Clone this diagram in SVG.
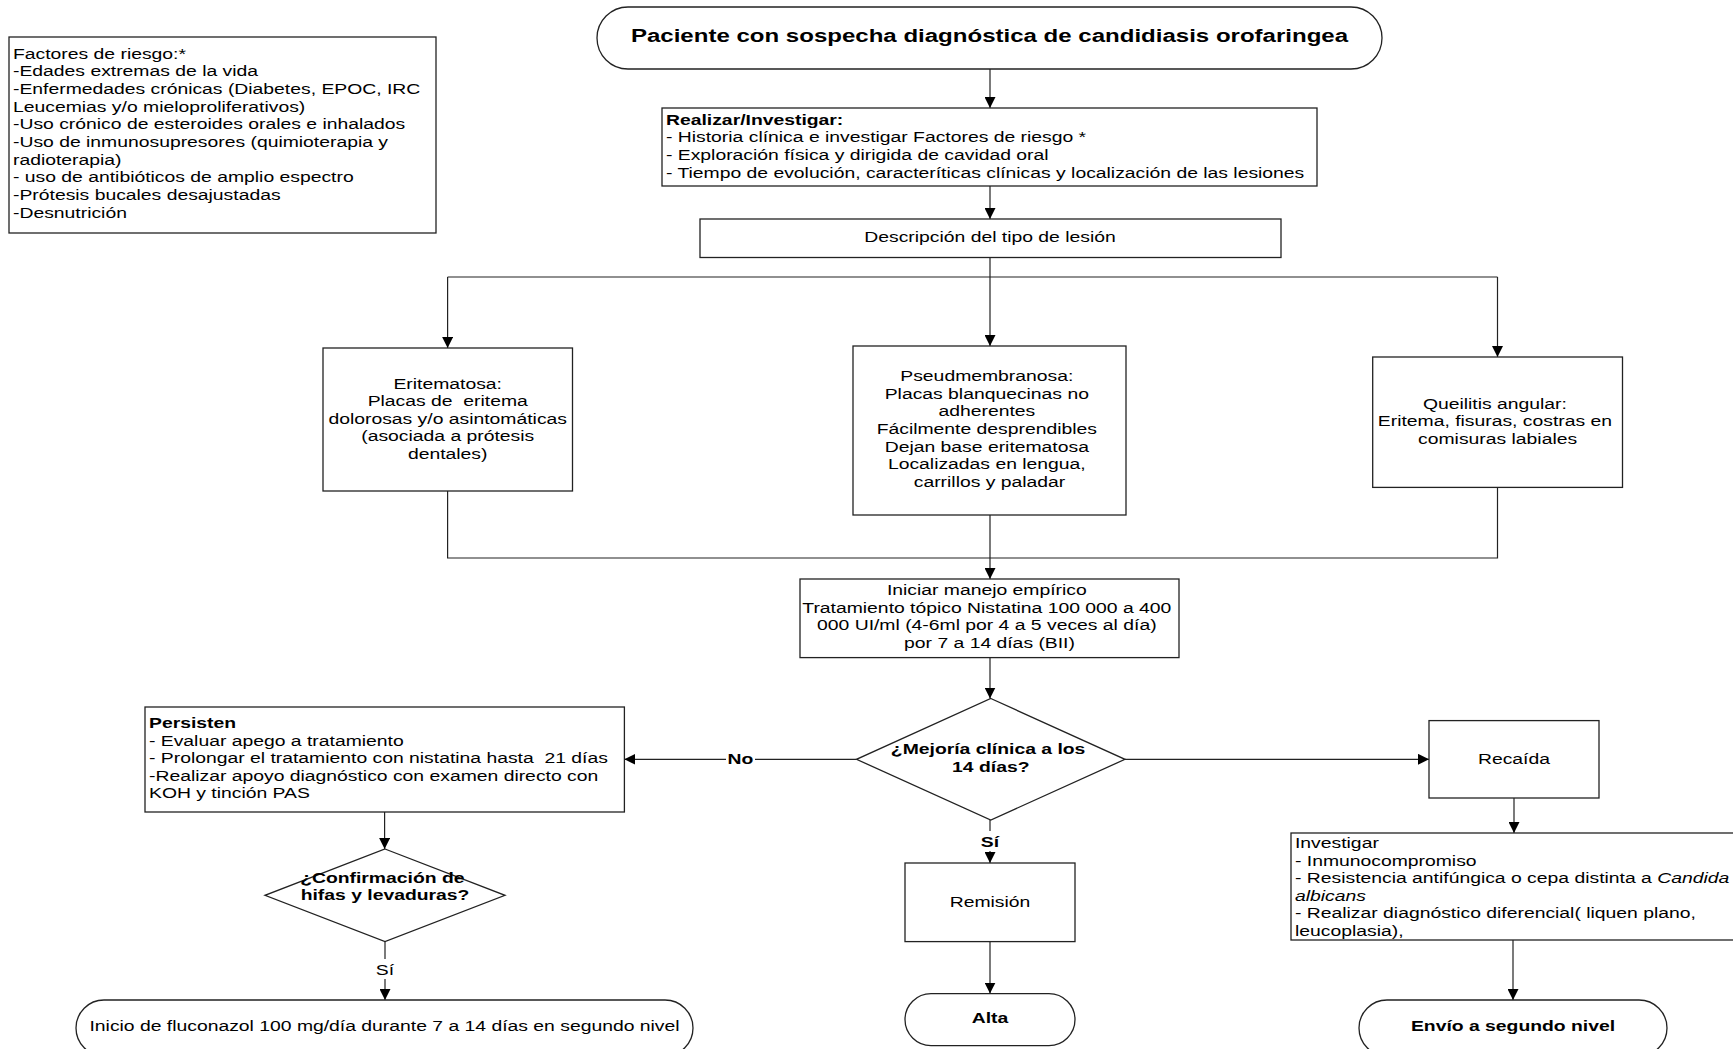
<svg xmlns="http://www.w3.org/2000/svg" width="1733" height="1049" viewBox="0 0 1733 1049">
<style>
text{font-family:"Liberation Sans",Arial,sans-serif;font-size:15px;fill:#000}
.b{font-weight:bold}
.box{fill:#fff;stroke:#222;stroke-width:1.3}
.ln{fill:none;stroke:#222;stroke-width:1.2}
.lbl{fill:#fff;stroke:none}
</style>
<defs>
<marker id="ar" viewBox="0 0 10 10" refX="10" refY="5" markerWidth="11" markerHeight="11" markerUnits="userSpaceOnUse" orient="auto">
<path d="M0,0 L10,5 L0,10 z" fill="#000"/>
</marker>
</defs>
<rect width="1733" height="1049" fill="#fff"/>

<g id="connectors">
<path class="ln" d="M990,69 V108" marker-end="url(#ar)"/>
<path class="ln" d="M990,186 V219" marker-end="url(#ar)"/>
<path class="ln" d="M990,257 V346" marker-end="url(#ar)"/>
<path class="ln" d="M447.6,277 H1497.5"/>
<path class="ln" d="M447.6,277 V348" marker-end="url(#ar)"/>
<path class="ln" d="M1497.5,277 V357" marker-end="url(#ar)"/>
<path class="ln" d="M447.6,491 V558 H1497.5 V487"/>
<path class="ln" d="M990,515 V579" marker-end="url(#ar)"/>
<path class="ln" d="M990,657.6 V698.5" marker-end="url(#ar)"/>
<path class="ln" d="M856.5,759.3 H624.4" marker-end="url(#ar)"/>
<path class="ln" d="M1125,759.3 H1429" marker-end="url(#ar)"/>
<path class="ln" d="M990,820 V863" marker-end="url(#ar)"/>
<path class="ln" d="M990,941.6 V993.6" marker-end="url(#ar)"/>
<path class="ln" d="M1514,798 V833" marker-end="url(#ar)"/>
<path class="ln" d="M1513,940 V1000" marker-end="url(#ar)"/>
<path class="ln" d="M384.6,812 V849" marker-end="url(#ar)"/>
<path class="ln" d="M385,941.6 V1000" marker-end="url(#ar)"/>
<rect class="lbl" x="726" y="749" width="29" height="19"/>
<text class="b" text-anchor="middle" transform="translate(740.5,763.5) scale(1.29,1)">No</text>
<rect class="lbl" x="978" y="831" width="24" height="20"/>
<text class="b" text-anchor="middle" transform="translate(990,846.5) scale(1.29,1)">Sí</text>
<rect class="lbl" x="374" y="959" width="22" height="20"/>
<text text-anchor="middle" transform="translate(385,974.5) scale(1.29,1)">Sí</text>
</g>

<g id="factores">
<rect class="box" x="9" y="37" width="427" height="196"/>
<text transform="translate(13,58.5) scale(1.29,1)">
<tspan x="0" dy="0">Factores de riesgo:*</tspan>
<tspan x="0" dy="17.7">-Edades extremas de la vida</tspan>
<tspan x="0" dy="17.7">-Enfermedades crónicas (Diabetes, EPOC, IRC</tspan>
<tspan x="0" dy="17.7">Leucemias y/o mieloproliferativos)</tspan>
<tspan x="0" dy="17.7">-Uso crónico de esteroides orales e inhalados</tspan>
<tspan x="0" dy="17.7">-Uso de inmunosupresores (quimioterapia y</tspan>
<tspan x="0" dy="17.7">radioterapia)</tspan>
<tspan x="0" dy="17.7">- uso de antibióticos de amplio espectro</tspan>
<tspan x="0" dy="17.7">-Prótesis bucales desajustadas</tspan>
<tspan x="0" dy="17.7">-Desnutrición</tspan>
</text>
</g>

<g id="inicio">
<rect class="box" x="597" y="7" width="785" height="62" rx="31"/>
<text class="b" text-anchor="middle" font-size="18.5" transform="translate(989.5,42) scale(1.3,1)" style="font-size:18.5px">Paciente con sospecha diagnóstica de candidiasis orofaringea</text>
</g>

<g id="realizar">
<rect class="box" x="662" y="108" width="655" height="78"/>
<text transform="translate(666,124.5) scale(1.29,1)">
<tspan x="0" dy="0" class="b">Realizar/Investigar:</tspan>
<tspan x="0" dy="18">- Historia clínica e investigar Factores de riesgo *</tspan>
<tspan x="0" dy="18">- Exploración física y dirigida de cavidad oral</tspan>
<tspan x="0" dy="18">- Tiempo de evolución, caracteríticas clínicas y localización de las lesiones</tspan>
</text>
</g>

<g id="descripcion">
<rect class="box" x="700" y="219" width="581" height="38.5"/>
<text text-anchor="middle" transform="translate(990,242) scale(1.29,1)">Descripción del tipo de lesión</text>
</g>

<g id="eritematosa">
<rect class="box" x="323" y="348" width="249.5" height="143"/>
<text text-anchor="middle" transform="translate(447.7,388.5) scale(1.29,1)" xml:space="preserve"><tspan x="0" dy="0">Eritematosa:</tspan><tspan x="0" dy="17.6">Placas de  eritema</tspan><tspan x="0" dy="17.6">dolorosas y/o asintomáticas</tspan><tspan x="0" dy="17.6">(asociada a prótesis</tspan><tspan x="0" dy="17.6">dentales)</tspan></text>
</g>

<g id="pseudomembranosa">
<rect class="box" x="853" y="346" width="273" height="169"/>
<text text-anchor="middle" transform="translate(989.5,381) scale(1.29,1)">
<tspan x="0" dy="0">Pseudmembranosa:</tspan>
<tspan x="0" dy="17.7">Placas blanquecinas no</tspan>
<tspan x="0" dy="17.7">adherentes</tspan>
<tspan x="0" dy="17.7">Fácilmente desprendibles</tspan>
<tspan x="0" dy="17.7">Dejan base eritematosa</tspan>
<tspan x="0" dy="17.7">Localizadas en lengua,</tspan>
<tspan x="0" dy="17.7">carrillos y paladar</tspan>
</text>
</g>

<g id="queilitis">
<rect class="box" x="1372.7" y="357" width="249.8" height="130.4"/>
<text text-anchor="middle" transform="translate(1497.6,408.5) scale(1.29,1)">
<tspan x="0" dy="0">Queilitis angular:</tspan>
<tspan x="0" dy="17.7">Eritema, fisuras, costras en</tspan>
<tspan x="0" dy="17.7">comisuras labiales</tspan>
</text>
</g>

<g id="iniciar">
<rect class="box" x="800" y="579" width="379" height="78.6"/>
<text text-anchor="middle" transform="translate(989.5,595) scale(1.29,1)">
<tspan x="0" dy="0">Iniciar manejo empírico</tspan>
<tspan x="0" dy="17.7">Tratamiento tópico Nistatina 100 000 a 400</tspan>
<tspan x="0" dy="17.7">000 UI/ml (4-6ml por 4 a 5 veces al día)</tspan>
<tspan x="0" dy="17.7">por 7 a 14 días (BII)</tspan>
</text>
</g>

<g id="mejoria">
<polygon class="box" points="990.8,698.5 1125,759.3 990.8,820 856.5,759.3"/>
<text class="b" text-anchor="middle" transform="translate(990.8,754) scale(1.29,1)">
<tspan x="0" dy="0">¿Mejoría clínica a los</tspan>
<tspan x="0" dy="17.7">14 días?</tspan>
</text>
</g>

<g id="persisten">
<rect class="box" x="145" y="707" width="479.4" height="105"/>
<text transform="translate(149,728) scale(1.29,1)" xml:space="preserve"><tspan x="0" dy="0" class="b">Persisten</tspan><tspan x="0" dy="17.6">- Evaluar apego a tratamiento</tspan><tspan x="0" dy="17.6">- Prolongar el tratamiento con nistatina hasta  21 días</tspan><tspan x="0" dy="17.6">-Realizar apoyo diagnóstico con examen directo con</tspan><tspan x="0" dy="17.6">KOH y tinción PAS</tspan></text>
</g>

<g id="confirmacion">
<polygon class="box" points="385,849 505,895.3 385,941.6 265,895.3"/>
<text class="b" text-anchor="middle" transform="translate(385,882.5) scale(1.29,1)">
<tspan x="0" dy="0">¿Confirmación de</tspan>
<tspan x="0" dy="17.6">hifas y levaduras?</tspan>
</text>
</g>

<g id="fluconazol">
<rect class="box" x="76" y="1000" width="617" height="56" rx="28"/>
<text text-anchor="middle" transform="translate(384.5,1030.5) scale(1.29,1)">Inicio de fluconazol 100 mg/día durante 7 a 14 días en segundo nivel</text>
</g>

<g id="remision">
<rect class="box" x="905" y="863" width="170" height="78.6"/>
<text text-anchor="middle" transform="translate(990,907) scale(1.29,1)">Remisión</text>
</g>

<g id="alta">
<rect class="box" x="905" y="993.6" width="170" height="52" rx="26"/>
<text class="b" text-anchor="middle" transform="translate(990,1023) scale(1.29,1)">Alta</text>
</g>

<g id="recaida">
<rect class="box" x="1429" y="720.6" width="170" height="77.4"/>
<text text-anchor="middle" transform="translate(1514,763.5) scale(1.29,1)">Recaída</text>
</g>

<g id="investigar">
<rect class="box" x="1291" y="833" width="460" height="107"/>
<text transform="translate(1295,848) scale(1.29,1)">
<tspan x="0" dy="0">Investigar</tspan>
<tspan x="0" dy="17.6">- Inmunocompromiso</tspan>
<tspan x="0" dy="17.6">- Resistencia antifúngica o cepa distinta a <tspan font-style="italic">Candida</tspan></tspan>
<tspan x="0" dy="17.6" font-style="italic">albicans</tspan>
<tspan x="0" dy="17.6">- Realizar diagnóstico diferencial( liquen plano,</tspan>
<tspan x="0" dy="17.6">leucoplasia),</tspan>
</text>
</g>

<g id="envio">
<rect class="box" x="1359" y="1000" width="308" height="56" rx="28"/>
<text class="b" text-anchor="middle" transform="translate(1513,1031) scale(1.29,1)">Envío a segundo nivel</text>
</g>
</svg>
